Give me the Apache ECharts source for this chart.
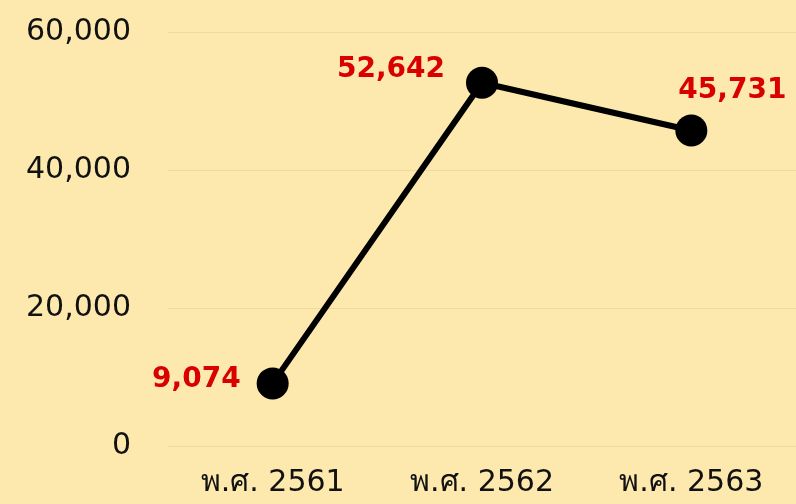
<!DOCTYPE html>
<html>
<head>
<meta charset="utf-8">
<script src="https://cdn.jsdelivr.net/npm/echarts@6/dist/echarts.min.js"></script>
<style>
  html, body { margin: 0; padding: 0; background: #fde9ad; }
  #chart { width: 796px; height: 504px; }
</style>
</head>
<body>
<div id="chart"></div>
<script>
const years = ['พ.ศ. 2561', 'พ.ศ. 2562', 'พ.ศ. 2563']
const counts = [9074, 52642, 45731]
const yTicks = [0, 20000, 40000, 60000]

// label placement per point
const labelPos = [
  { position: 'left', distance: 16, offset: [0, -4] },
  { position: 'left', distance: 21, offset: [0, -13] },
  { position: 'top', distance: 10, offset: [41, 0] }
]

const fmt = v => v.toLocaleString('en-US')
const font = 'DejaVu Sans, Noto Sans, sans-serif'

let chart = echarts.init(document.getElementById('chart'))

let option = {
  backgroundColor: '#fde9ad',
  animation: false,
  grid: { left: 168, right: 0, top: 32, bottom: 58 },
  xAxis: {
    type: 'category',
    data: years,
    axisLine: { show: false },
    axisTick: { show: false },
    axisLabel: { color: '#111', fontSize: 30, margin: 22, fontFamily: font }
  },
  yAxis: {
    type: 'value',
    min: yTicks[0],
    max: yTicks[yTicks.length - 1],
    interval: 20000,
    axisLabel: { color: '#111', fontSize: 30, margin: 37, formatter: v => fmt(v), fontFamily: font },
    splitLine: { lineStyle: { color: '#ecd9a0', width: 1 } }
  },
  series: [{
    type: 'line',
    data: counts.map((v, i) => ({
      value: v,
      label: labelPos[i]
    })),
    symbol: 'circle',
    symbolSize: 32,
    itemStyle: { color: '#000' },
    lineStyle: { color: '#000', width: 6 },
    label: {
      show: true,
      color: '#d90000',
      fontSize: 28,
      fontWeight: 'bold',
      fontFamily: font,
      formatter: p => fmt(p.value)
    }
  }]
}

chart.setOption(option)
</script>
</body>
</html>
